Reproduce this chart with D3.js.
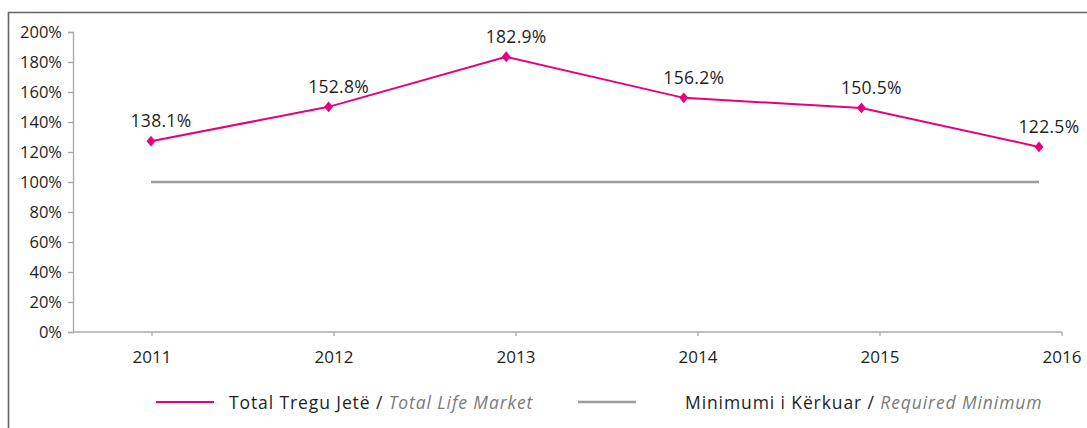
<!DOCTYPE html>
<html>
<head>
<meta charset="utf-8">
<script src="https://cdn.jsdelivr.net/npm/d3@7"></script>
<style>
  html, body { margin: 0; padding: 0; background: #fff; }
  svg { display: block; }
  text { font-family: "Open Sans", sans-serif; fill: #1e1e1e; }
</style>
</head>
<body>
<svg id="chart" width="1087" height="428"></svg>
<script>
// ---- data ----
const years = ["2011", "2012", "2013", "2014", "2015", "2016"];
const lifeMarket = [127.2, 150.1, 183.5, 156.1, 149.4, 123.4];   // plotted positions
const lifeMarketLabels = ["138.1%", "152.8%", "182.9%", "156.2%", "150.5%", "122.5%"];
const requiredMinimum = [100, 100, 100, 100, 100, 100];
const yTicks = [0, 20, 40, 60, 80, 100, 120, 140, 160, 180, 200];
const seriesNames = [
  { main: "Total Tregu Jetë / ", en: "Total Life Market" },
  { main: "Minimumi i Kërkuar / ", en: "Required Minimum" }
];

// ---- layout ----
const svg = d3.select("#chart");
const pink = "#e6007e", grayLine = "#9d9d9d", axisCol = "#a8a8a8";

// frame
svg.append("path")
  .attr("d", "M8.5,428 L8.5,12.5 L1087,12.5")
  .attr("fill", "none").attr("stroke", "#666").attr("stroke-width", 1.6);

const y = d3.scaleLinear().domain([0, 200]).range([332, 32]);
const xAxisScale = d3.scalePoint().domain(years).range([152, 1062]);
const xData = d3.scalePoint().domain(years).range([151, 1039]);

// y axis
const yAxis = svg.append("g").attr("transform", "translate(73,0)")
  .call(d3.axisLeft(y).tickValues(yTicks).tickSize(5).tickPadding(6).tickFormat(d => d + "%"));
yAxis.select(".domain").attr("stroke", axisCol).attr("stroke-width", 1.3);
yAxis.selectAll(".tick line").attr("stroke", axisCol).attr("stroke-width", 1.3);
yAxis.selectAll(".tick text").attr("font-size", 16.5).attr("fill", "#1e1e1e")
  .attr("font-family", "Open Sans, sans-serif").attr("dy", "0.36em");

// x axis
const xAxis = svg.append("g").attr("transform", "translate(0,332)");
xAxis.append("line").attr("x1", 73).attr("x2", 1062).attr("y1", 0).attr("y2", 0)
  .attr("stroke", axisCol).attr("stroke-width", 1.3);
xAxis.selectAll("line.tk").data(years).enter().append("line").attr("class", "tk")
  .attr("x1", d => xAxisScale(d)).attr("x2", d => xAxisScale(d))
  .attr("y1", 0).attr("y2", 4).attr("stroke", axisCol).attr("stroke-width", 1.3);
xAxis.selectAll("text").data(years).enter().append("text")
  .attr("x", d => xAxisScale(d)).attr("y", 31)
  .attr("text-anchor", "middle").attr("font-size", 17).text(d => d);

// required minimum line
svg.append("path")
  .datum(requiredMinimum)
  .attr("fill", "none").attr("stroke", grayLine).attr("stroke-width", 2.4)
  .attr("d", d3.line().x((d, i) => xData(years[i])).y(d => y(d)));

// life market line
svg.append("path")
  .datum(lifeMarket)
  .attr("fill", "none").attr("stroke", pink).attr("stroke-width", 2)
  .attr("d", d3.line().x((d, i) => xData(years[i])).y(d => y(d)));

const diamond = {
  draw(ctx, size) {
    const w = Math.sqrt(size) * 0.6, h = Math.sqrt(size) * 0.72;
    ctx.moveTo(0, -h); ctx.lineTo(w, 0); ctx.lineTo(0, h); ctx.lineTo(-w, 0); ctx.closePath();
  }
};
svg.selectAll("path.mk").data(lifeMarket).enter().append("path").attr("class", "mk")
  .attr("transform", (d, i) => `translate(${xData(years[i])},${y(d)})`)
  .attr("d", d3.symbol().type(diamond).size(56))
  .attr("fill", pink);

svg.selectAll("text.lbl").data(lifeMarket).enter().append("text").attr("class", "lbl")
  .attr("x", (d, i) => xData(years[i]) + 10)
  .attr("y", d => y(d) - 14)
  .attr("text-anchor", "middle").attr("font-size", 17.5).attr("letter-spacing", 0.3)
  .text((d, i) => lifeMarketLabels[i]);

// legend
const legendColors = [pink, grayLine];
const legendLineX = [156, 578];
const legendTextX = [229, 685];
seriesNames.forEach((s, i) => {
  svg.append("line").attr("x1", legendLineX[i]).attr("x2", legendLineX[i] + 58)
    .attr("y1", 402).attr("y2", 402)
    .attr("stroke", legendColors[i]).attr("stroke-width", i === 0 ? 2 : 2.4);
  const t = svg.append("text").attr("x", legendTextX[i]).attr("y", 409)
    .attr("font-size", 17.5).attr("letter-spacing", 0.9);
  t.append("tspan").text(s.main);
  t.append("tspan").attr("font-style", "italic").style("fill", "#7a7a7a").text(s.en);
});
</script>
</body>
</html>
